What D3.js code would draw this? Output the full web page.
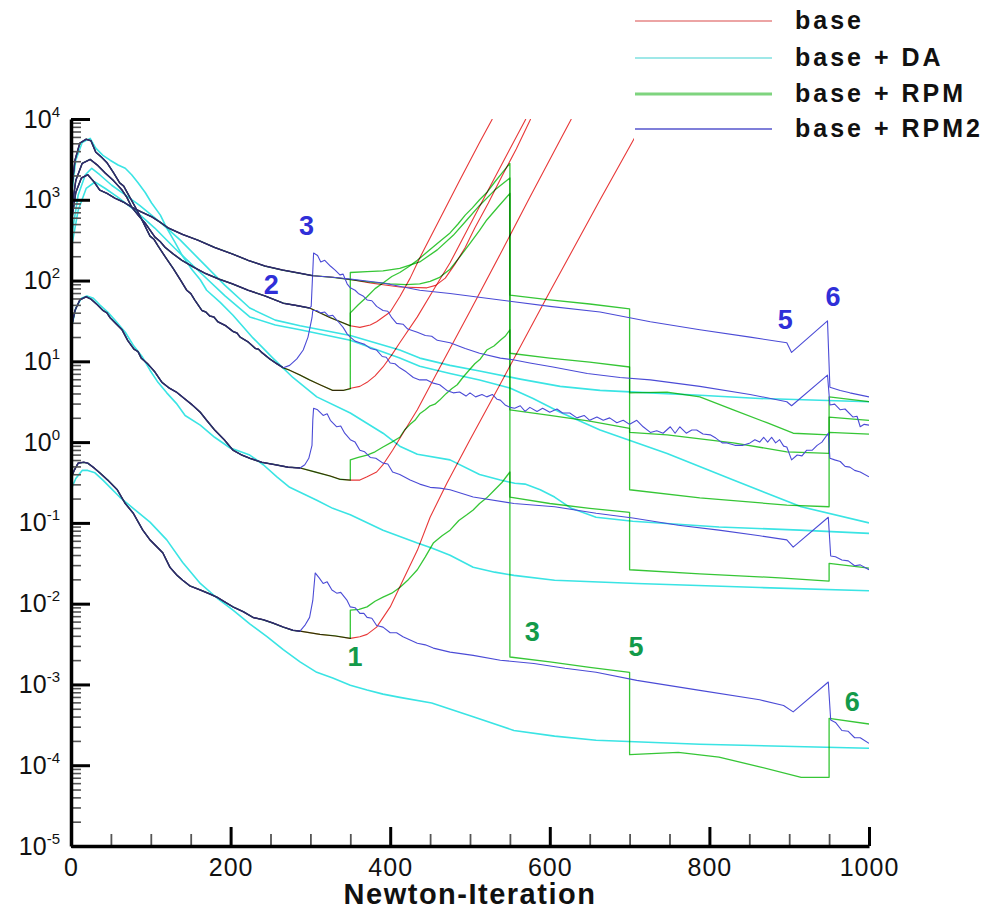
<!DOCTYPE html>
<html>
<head>
<meta charset="utf-8">
<script src="https://cdnjs.cloudflare.com/ajax/libs/d3/7.8.5/d3.min.js"></script>
<style>
  html, body { margin: 0; padding: 0; background: #fff; }
  svg { display: block; font-family: "Liberation Sans", Arial, Helvetica, sans-serif; }
</style>
</head>
<body>
<svg id="chart" width="990" height="911"></svg>
<script>
// Convergence history of the Newton solver: log10 of five residual norms per iteration.
// Each point is [Newton iteration, log10(residual)].

const methods = ["base", "base + DA", "base + RPM", "base + RPM2"];
const methodColors = ["#e83838", "#3ae4e4", "#36c636", "#4b4bd6"];
const sharedColor = "#2c2c68";

const iterTicks = [0, 200, 400, 600, 800, 1000];
const iterMinorTicks = [50, 100, 150, 250, 300, 350, 450, 500, 550, 650, 700, 750, 850, 900, 950];
const decadeTicks = [-5, -4, -3, -2, -1, 0, 1, 2, 3, 4];

// History shared by base, RPM and RPM2 before the stabilisation kicks in
const res1Start = [[0,2.69],[6,3.09],[13,3.27],[21,3.31],[29,3.22],[36,3.12],[45,3.08],[55,3.02],[66,2.97],[76,2.91],[88,2.85],[101,2.79],[112,2.72],[122,2.65],[140,2.57],[159,2.50],[180,2.41],[202,2.33],[222,2.25],[243,2.18],[265,2.13],[287,2.09],[303,2.06]];
const res2Start = [[0,2.81],[6,3.24],[14,3.45],[24,3.50],[33,3.43],[43,3.33],[53,3.24],[64,3.12],[70,3.03],[76,2.91],[85,2.80],[93,2.71],[105,2.54],[112,2.48],[118,2.41],[128,2.33],[139,2.25],[153,2.17],[168,2.09],[185,2.02],[202,1.96],[222,1.88],[243,1.81],[266,1.72],[283,1.69],[299,1.66]];
const res3Start = [[0,3.06],[5,3.49],[11,3.70],[19,3.75],[25,3.73],[31,3.59],[38,3.53],[45,3.46],[53,3.34],[61,3.21],[66,3.17],[71,3.08],[80,2.92],[89,2.75],[99,2.55],[104,2.51],[109,2.43],[119,2.28],[128,2.15],[137,2.01],[145,1.88],[150,1.84],[155,1.76],[164,1.63],[169,1.61],[174,1.56],[179,1.55],[184,1.49],[194,1.44],[203,1.37],[208,1.35],[212,1.30],[222,1.24],[231,1.16],[235,1.15],[239,1.11],[249,1.03],[258,0.97],[266,0.92]];
const res4Start = [[0,1.39],[5,1.63],[11,1.76],[19,1.80],[25,1.77],[33,1.70],[40,1.63],[45,1.60],[49,1.54],[56,1.47],[64,1.39],[71,1.26],[79,1.15],[84,1.12],[88,1.04],[96,0.97],[105,0.87],[114,0.74],[123,0.67],[132,0.62],[142,0.54],[152,0.46],[162,0.37],[170,0.27],[180,0.15],[192,0.03],[203,-0.10],[214,-0.16],[224,-0.20],[239,-0.25],[256,-0.28],[272,-0.31],[287,-0.32]];
const res5Start = [[0,-0.45],[4,-0.35],[9,-0.26],[16,-0.25],[21,-0.26],[29,-0.32],[36,-0.38],[46,-0.47],[58,-0.59],[68,-0.76],[78,-0.88],[90,-1.09],[99,-1.21],[108,-1.30],[115,-1.37],[124,-1.55],[133,-1.65],[140,-1.71],[149,-1.78],[162,-1.83],[174,-1.88],[183,-1.92],[193,-1.98],[203,-2.04],[216,-2.10],[228,-2.17],[241,-2.20],[253,-2.24],[266,-2.29],[278,-2.33],[287,-2.34]];

// base: diverges after iteration ~350
const baseTail1 = [[328,2.04],[352,2.01],[375,1.97],[412,1.92],[446,1.91],[457,1.94],[469,2.03],[481,2.20],[494,2.41],[506,2.65],[523,2.96],[540,3.29],[558,3.63],[576,4.00]];
const baseTail2 = [[325,1.54],[350,1.44],[362,1.42],[375,1.45],[383,1.49],[400,1.61],[412,1.80],[425,2.03],[437,2.28],[462,2.76],[487,3.24],[512,3.71],[528,4.00]];
const baseTail3 = [[274,0.89],[287,0.83],[299,0.77],[312,0.71],[328,0.64],[341,0.64],[352,0.67],[362,0.69],[371,0.74],[381,0.82],[391,0.93],[402,1.08],[412,1.23],[434,1.55],[454,1.88],[475,2.22],[500,2.69],[525,3.16],[550,3.63],[570,4.00]];
const baseTail4 = [[306,-0.37],[325,-0.42],[337,-0.46],[350,-0.47],[362,-0.47],[371,-0.43],[383,-0.37],[391,-0.28],[403,-0.10],[416,0.11],[434,0.40],[462,0.92],[500,1.62],[538,2.33],[575,3.03],[613,3.74],[627,4.00]];
const baseTail5 = [[312,-2.38],[331,-2.40],[350,-2.43],[362,-2.41],[371,-2.38],[383,-2.29],[400,-2.04],[416,-1.71],[434,-1.34],[450,-0.93],[471,-0.51],[500,0.03],[538,0.72],[600,1.86],[663,3.00],[707,3.78],[719,4.00]];

// base + RPM: stabilisation switched on at 350, 550, 700 and 950
const rpmTail1 = [[328,2.04],[352,2.01],[375,1.98],[400,1.96],[420,1.95],[437,1.96],[450,1.99],[462,2.04],[475,2.14],[487,2.29],[500,2.46],[512,2.62],[521,2.75],[535,2.91],[550,3.08],[550,1.82],[600,1.76],[650,1.71],[700,1.65],[700,0.61],[747,0.62],[788,0.56],[830,0.40],[872,0.24],[905,0.11],[950,0.09],[950,0.56],[976,0.53],[1000,0.50]];
const rpmTail2 = [[325,1.54],[350,1.44],[350,2.10],[371,2.11],[391,2.12],[412,2.15],[437,2.23],[459,2.38],[479,2.56],[496,2.75],[512,2.93],[531,3.12],[550,3.27],[550,1.10],[600,1.04],[650,0.99],[700,0.93],[700,0.12],[747,0.09],[830,-0.01],[897,-0.12],[950,-0.14],[950,0.31],[1000,0.27]];
const rpmTail3 = [[274,0.89],[287,0.83],[299,0.77],[312,0.71],[328,0.64],[341,0.64],[350,0.66],[350,1.60],[360,1.70],[371,1.80],[381,1.90],[391,1.97],[402,2.05],[412,2.10],[423,2.17],[434,2.25],[447,2.36],[459,2.46],[475,2.59],[485,2.70],[494,2.81],[503,2.90],[512,3.00],[522,3.10],[531,3.22],[540,3.33],[550,3.45],[550,0.40],[600,0.33],[650,0.26],[700,0.17],[700,-0.59],[788,-0.69],[897,-0.78],[950,-0.80],[950,0.12],[1000,0.10]];
const rpmTail4 = [[306,-0.37],[325,-0.42],[337,-0.46],[350,-0.47],[350,-0.22],[360,-0.19],[371,-0.16],[381,-0.12],[391,-0.06],[402,0.00],[412,0.06],[418,0.15],[425,0.22],[431,0.27],[437,0.35],[444,0.40],[450,0.45],[456,0.47],[462,0.52],[470,0.60],[477,0.66],[484,0.71],[491,0.80],[498,0.88],[506,0.97],[513,1.03],[521,1.14],[530,1.19],[538,1.26],[544,1.31],[550,1.39],[550,-0.68],[600,-0.76],[650,-0.82],[700,-0.87],[700,-1.58],[788,-1.63],[888,-1.68],[950,-1.72],[950,-1.50],[1000,-1.56]];
const rpmTail5 = [[312,-2.38],[331,-2.40],[350,-2.43],[350,-2.08],[361,-2.07],[371,-2.04],[381,-1.97],[391,-1.92],[402,-1.87],[412,-1.80],[423,-1.70],[434,-1.58],[444,-1.42],[454,-1.25],[465,-1.16],[475,-1.09],[486,-0.97],[496,-0.90],[504,-0.84],[512,-0.76],[521,-0.69],[531,-0.59],[540,-0.50],[550,-0.37],[550,-2.66],[600,-2.72],[650,-2.79],[700,-2.85],[700,-3.87],[761,-3.84],[812,-3.90],[863,-4.02],[915,-4.15],[950,-4.15],[950,-3.42],[1000,-3.49]];

// base + RPM2: switched on near 300, adjusted at 900 and 950
const rpm2Tail1 = [[328,2.04],[350,2.02],[391,1.97],[437,1.88],[475,1.84],[538,1.76],[600,1.68],[663,1.61],[726,1.49],[788,1.39],[851,1.30],[897,1.23],[903,1.11],[948,1.50],[951,0.68],[964,0.64],[976,0.61],[1000,0.56]];
const rpm2Tail2 = [[301,1.68],[304,2.34],[309,2.31],[313,2.23],[318,2.25],[325,2.18],[331,2.13],[337,2.07],[341,2.08],[346,1.96],[350,1.91],[356,1.88],[360,1.84],[366,1.81],[371,1.76],[377,1.75],[383,1.68],[391,1.63],[397,1.62],[402,1.54],[408,1.47],[416,1.46],[422,1.40],[434,1.36],[444,1.32],[452,1.31],[459,1.26],[475,1.23],[494,1.16],[512,1.10],[538,1.04],[554,1.02],[575,0.98],[604,0.93],[647,0.85],[688,0.80],[726,0.77],[788,0.69],[851,0.59],[897,0.50],[903,0.45],[948,0.83],[951,0.46],[957,0.47],[964,0.40],[970,0.41],[980,0.31],[985,0.32],[989,0.19],[994,0.22],[1000,0.21]];
const rpm2Tail3 = [[274,0.95],[283,1.03],[291,1.14],[297,1.30],[302,1.54],[303,1.63],[308,1.63],[313,1.60],[318,1.61],[323,1.56],[328,1.57],[335,1.49],[341,1.42],[346,1.34],[350,1.30],[356,1.25],[362,1.23],[368,1.21],[375,1.16],[383,1.14],[390,1.06],[395,1.05],[400,0.98],[406,0.97],[412,0.92],[420,0.87],[429,0.80],[437,0.77],[446,0.77],[454,0.73],[462,0.71],[471,0.64],[479,0.61],[487,0.62],[495,0.57],[500,0.61],[507,0.56],[515,0.59],[521,0.56],[528,0.59],[534,0.53],[538,0.52],[544,0.46],[550,0.43],[556,0.42],[563,0.45],[569,0.38],[575,0.43],[584,0.38],[591,0.42],[600,0.37],[609,0.41],[616,0.36],[625,0.36],[634,0.30],[643,0.33],[650,0.27],[659,0.31],[667,0.27],[675,0.30],[684,0.24],[692,0.27],[700,0.22],[709,0.27],[717,0.19],[726,0.12],[734,0.14],[742,0.11],[751,0.19],[757,0.11],[763,0.19],[771,0.11],[778,0.15],[784,0.15],[792,0.10],[801,0.09],[808,0.05],[816,-0.01],[822,-0.01],[832,-0.04],[842,-0.04],[851,-0.01],[857,0.03],[863,0.00],[868,0.06],[873,0.00],[878,0.06],[883,-0.01],[888,0.03],[893,-0.05],[897,-0.06],[903,-0.22],[910,-0.16],[916,-0.17],[922,-0.10],[929,-0.10],[935,-0.04],[941,0.00],[949,0.11],[951,-0.20],[957,-0.22],[964,-0.24],[970,-0.30],[976,-0.31],[982,-0.35],[989,-0.37],[1000,-0.43]];
const rpm2Tail4 = [[293,-0.28],[298,-0.20],[302,-0.04],[303,0.27],[304,0.42],[309,0.40],[316,0.33],[321,0.35],[325,0.27],[333,0.19],[338,0.20],[343,0.11],[350,0.03],[356,0.00],[362,-0.10],[368,-0.12],[375,-0.19],[382,-0.20],[391,-0.26],[397,-0.27],[403,-0.37],[412,-0.40],[425,-0.47],[437,-0.52],[450,-0.56],[462,-0.57],[475,-0.59],[504,-0.68],[555,-0.76],[606,-0.80],[658,-0.88],[704,-0.94],[761,-1.03],[812,-1.09],[863,-1.16],[897,-1.21],[905,-1.30],[949,-0.93],[952,-1.41],[958,-1.42],[966,-1.46],[974,-1.47],[982,-1.53],[989,-1.52],[1000,-1.58]];
const rpm2Tail5 = [[293,-2.27],[299,-2.17],[303,-1.96],[306,-1.62],[311,-1.68],[316,-1.75],[321,-1.73],[327,-1.83],[333,-1.87],[338,-1.86],[346,-1.96],[350,-2.04],[356,-2.05],[362,-2.12],[367,-2.12],[371,-2.17],[377,-2.18],[383,-2.27],[391,-2.29],[400,-2.36],[408,-2.36],[416,-2.41],[425,-2.45],[434,-2.49],[444,-2.51],[454,-2.55],[475,-2.60],[504,-2.64],[538,-2.70],[580,-2.74],[619,-2.80],[658,-2.85],[709,-2.95],[786,-3.07],[863,-3.19],[893,-3.26],[905,-3.34],[949,-2.97],[952,-3.44],[958,-3.47],[966,-3.57],[974,-3.58],[982,-3.66],[989,-3.66],[1000,-3.73]];

// base + DA: complete histories
const da1 = [[0,2.50],[9,3.06],[18,3.31],[26,3.39],[36,3.31],[51,3.18],[68,3.06],[86,2.93],[112,2.72],[137,2.50],[162,2.25],[193,1.94],[224,1.66],[256,1.51],[287,1.44],[350,1.32],[412,1.14],[437,1.04],[475,0.95],[512,0.88],[563,0.78],[613,0.69],[663,0.64],[726,0.61],[788,0.58],[863,0.54],[1000,0.50]];
const da2 = [[0,2.38],[9,2.87],[19,3.14],[30,3.22],[43,3.14],[59,3.03],[80,2.87],[105,2.65],[130,2.40],[162,2.10],[193,1.81],[224,1.55],[256,1.45],[287,1.39],[350,1.26],[412,1.04],[437,0.94],[475,0.85],[512,0.77],[550,0.67],[579,0.54],[613,0.37],[663,0.15],[747,-0.14],[830,-0.47],[915,-0.80],[1000,-1.00]];
const da3 = [[0,3.00],[6,3.49],[14,3.71],[24,3.76],[31,3.64],[40,3.55],[49,3.49],[59,3.43],[68,3.39],[76,3.31],[84,3.21],[93,3.09],[101,2.96],[112,2.81],[120,2.65],[130,2.48],[140,2.30],[152,2.13],[162,2.01],[170,1.88],[187,1.73],[203,1.57],[228,1.29],[253,1.04],[278,0.80],[308,0.56],[350,0.36],[391,0.11],[412,-0.05],[434,-0.15],[475,-0.22],[512,-0.40],[538,-0.47],[556,-0.51],[569,-0.52],[588,-0.59],[606,-0.68],[627,-0.82],[658,-0.93],[704,-0.98],[812,-1.05],[913,-1.09],[1000,-1.13]];
const da4 = [[0,1.39],[6,1.66],[13,1.78],[20,1.81],[28,1.78],[36,1.70],[46,1.61],[55,1.51],[68,1.36],[78,1.20],[89,1.06],[99,0.89],[109,0.74],[120,0.61],[132,0.48],[143,0.33],[162,0.21],[180,0.06],[199,-0.07],[224,-0.16],[241,-0.28],[258,-0.43],[274,-0.56],[291,-0.64],[308,-0.72],[328,-0.82],[350,-0.90],[391,-1.09],[434,-1.25],[452,-1.31],[475,-1.40],[504,-1.55],[531,-1.61],[555,-1.65],[606,-1.71],[709,-1.75],[863,-1.80],[1000,-1.84]];
const da5 = [[0,-0.59],[6,-0.45],[14,-0.35],[21,-0.35],[30,-0.38],[40,-0.47],[49,-0.56],[61,-0.68],[78,-0.82],[99,-0.99],[120,-1.21],[140,-1.49],[162,-1.75],[183,-1.93],[203,-2.08],[224,-2.25],[246,-2.41],[266,-2.57],[287,-2.72],[308,-2.85],[328,-2.92],[350,-3.01],[371,-3.07],[391,-3.12],[412,-3.16],[452,-3.23],[504,-3.40],[555,-3.57],[606,-3.64],[658,-3.69],[788,-3.74],[1000,-3.79]];

// Switching-stage markers: [iteration, log10(residual), text]
const rpm2Marks = [[251, 1.94, "2"], [295, 2.67, "3"], [895, 1.51, "5"], [955, 1.80, "6"]];
const rpmMarks  = [[356, -2.66, "1"], [578, -2.35, "3"], [708, -2.54, "5"], [979, -3.22, "6"]];

// ---------------------------------------------------------------------------
const svg = d3.select("#chart");
const W = 990, H = 911;
svg.append("rect").attr("width", W).attr("height", H).attr("fill", "#fff");

const x = d3.scaleLinear().domain([0, 1000]).range([71, 869]);
const y = d3.scaleLinear().domain([-5, 4]).range([846, 119]);

svg.append("clipPath").attr("id", "plot-clip")
  .append("rect").attr("x", 71).attr("y", 119).attr("width", 798).attr("height", 727);

const line = d3.line().x(d => x(d[0])).y(d => y(d[1]));

const curves = [
  // [method index, points]
  [1, da1], [1, da2], [1, da3], [1, da4], [1, da5],
  [0, res1Start.concat(baseTail1)], [0, res2Start.concat(baseTail2)], [0, res3Start.concat(baseTail3)],
  [0, res4Start.concat(baseTail4)], [0, res5Start.concat(baseTail5)],
  [2, res1Start.concat(rpmTail1)], [2, res2Start.concat(rpmTail2)], [2, res3Start.concat(rpmTail3)],
  [2, res4Start.concat(rpmTail4)], [2, res5Start.concat(rpmTail5)],
  [3, res1Start.concat(rpm2Tail1)], [3, res2Start.concat(rpm2Tail2)], [3, res3Start.concat(rpm2Tail3)],
  [3, res4Start.concat(rpm2Tail4)], [3, res5Start.concat(rpm2Tail5)]
];
const strokeW = [1.1, 1.6, 1.3, 1.1];
const blend = ["multiply", "normal", "multiply", "normal"];

const plot = svg.append("g").attr("clip-path", "url(#plot-clip)");
plot.selectAll("path.curve")
  .data(curves)
  .join("path")
  .attr("class", "curve")
  .attr("d", d => line(d[1]))
  .attr("fill", "none")
  .attr("stroke", d => methodColors[d[0]])
  .attr("stroke-width", d => strokeW[d[0]])
  .attr("stroke-linejoin", "round")
  .style("mix-blend-mode", d => blend[d[0]]);

// Where base, RPM and RPM2 coincide the three traces sit on top of each other
plot.selectAll("path.shared")
  .data([res1Start, res2Start, res3Start, res4Start, res5Start])
  .join("path")
  .attr("class", "shared")
  .attr("d", d => line(d))
  .attr("fill", "none")
  .attr("stroke", sharedColor)
  .attr("stroke-width", 1.5)
  .attr("stroke-linejoin", "round");

// Stage markers
const marks = svg.append("g").attr("font-weight", "bold").attr("font-size", 27)
  .attr("text-anchor", "middle").attr("dominant-baseline", "central");
marks.selectAll("text.m2").data(rpm2Marks).join("text").attr("class", "m2")
  .attr("x", d => x(d[0])).attr("y", d => y(d[1])).attr("fill", "#2f2fd8").text(d => d[2]);
marks.selectAll("text.m1").data(rpmMarks).join("text").attr("class", "m1")
  .attr("x", d => x(d[0])).attr("y", d => y(d[1])).attr("fill", "#139a4a").text(d => d[2]);

// Axes: ticks point into the plot
const yMinor = d3.range(-5, 4).flatMap(n => d3.range(2, 10).map(k => n + Math.log10(k)));

const yMinorG = svg.append("g").attr("transform", "translate(71,0)")
  .call(d3.axisLeft(y).tickValues(yMinor).tickSize(-10).tickSizeOuter(0).tickFormat(""));
yMinorG.select(".domain").remove();
yMinorG.selectAll(".tick line").attr("stroke", "#555").attr("stroke-width", 1.6);

const yAxisG = svg.append("g").attr("transform", "translate(71,0)")
  .call(d3.axisLeft(y).tickValues(decadeTicks).tickSize(-19).tickSizeOuter(0).tickPadding(11));
yAxisG.selectAll(".tick line").attr("stroke", "#000").attr("stroke-width", 3);
yAxisG.select(".domain").attr("stroke", "#000").attr("stroke-width", 3.5);
yAxisG.selectAll(".tick text")
  .attr("font-size", 25).attr("fill", "#111")
  .attr("font-family", "'Liberation Sans', Arial, sans-serif")
  .each(function (d) {
    const t = d3.select(this);
    t.text("10");
    t.append("tspan").attr("font-size", 15).attr("dy", -11).text(d < 0 ? "-" + (-d) : String(d));
  });

const xMinorG = svg.append("g").attr("transform", "translate(0,846)")
  .call(d3.axisBottom(x).tickValues(iterMinorTicks).tickSize(-12).tickSizeOuter(0).tickFormat(""));
xMinorG.select(".domain").remove();
xMinorG.selectAll(".tick line").attr("stroke", "#555").attr("stroke-width", 1.8);

const xAxisG = svg.append("g").attr("transform", "translate(0,846)")
  .call(d3.axisBottom(x).tickValues(iterTicks).tickSize(-19).tickSizeOuter(0).tickPadding(12)
    .tickFormat(d3.format("d")));
xAxisG.selectAll(".tick line").attr("stroke", "#000").attr("stroke-width", 3);
xAxisG.select(".domain").attr("stroke", "#000").attr("stroke-width", 3.5);
xAxisG.selectAll(".tick text")
  .attr("font-size", 25).attr("fill", "#111").attr("letter-spacing", 1)
  .attr("font-family", "'Liberation Sans', Arial, sans-serif");

svg.append("text")
  .attr("x", 470).attr("y", 904)
  .attr("text-anchor", "middle")
  .attr("font-weight", "bold").attr("font-size", 29).attr("letter-spacing", 1.5)
  .attr("fill", "#111")
  .text("Newton-Iteration");

// Legend on an opaque panel
const legend = svg.append("g");
legend.append("rect").attr("x", 634).attr("y", 0).attr("width", 356).attr("height", 140).attr("fill", "#fff");
const legendRows = [21, 58, 94, 129];
const legendW = [1.2, 1.8, 3.2, 1.4];
const legendCol = ["#d94a4a", "#9fe8e8", "#7ed47e", "#5555cc"];
methods.forEach((m, i) => {
  legend.append("line")
    .attr("x1", 635).attr("x2", 772).attr("y1", legendRows[i]).attr("y2", legendRows[i])
    .attr("stroke", legendCol[i]).attr("stroke-width", legendW[i]);
  legend.append("text")
    .attr("x", 795).attr("y", legendRows[i] + 8)
    .attr("font-weight", "bold").attr("font-size", 25).attr("letter-spacing", 3)
    .attr("fill", "#111")
    .text(m);
});
</script>
</body>
</html>
